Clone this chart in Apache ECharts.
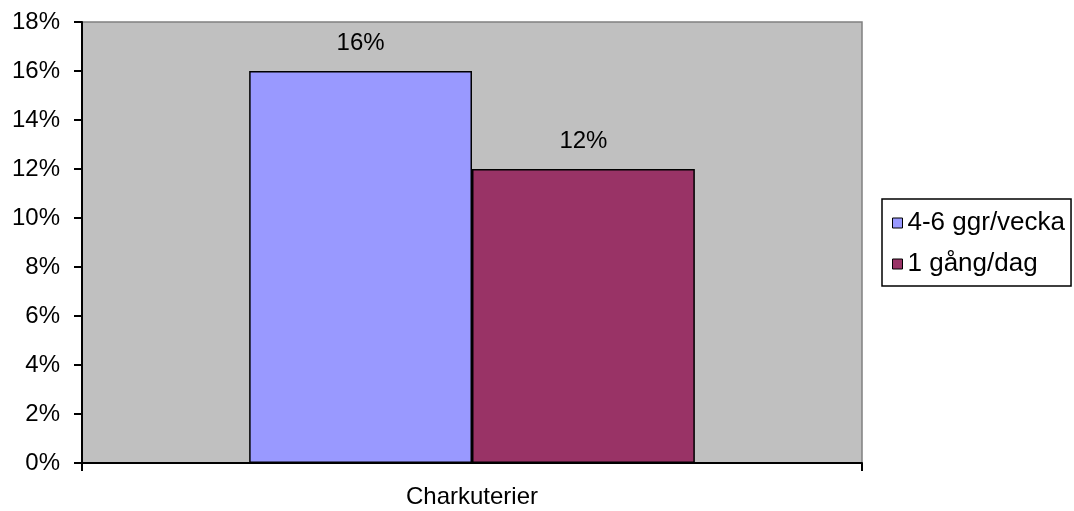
<!DOCTYPE html>
<html>
<head>
<meta charset="utf-8">
<script src="https://cdn.jsdelivr.net/npm/echarts@6/dist/echarts.min.js"></script>
<style>
  html, body { margin: 0; padding: 0; background: #ffffff; }
  #chart { width: 1074px; height: 511px; }
</style>
</head>
<body>
<div id="chart"></div>
<script>
// Category and series values (percent)
const categories = ['Charkuterier'];
const seriesNames = ['4-6 ggr/vecka', '1 gång/dag'];
const weeklyValues = [16];
const dailyValues = [12];
const seriesColors = ['#9999FF', '#993366'];

const FONT = '"Liberation Sans", Arial, sans-serif';

const chart = echarts.init(document.getElementById('chart'), null, { renderer: 'canvas' });

const valueSets = [weeklyValues, dailyValues];

chart.setOption({
  backgroundColor: '#ffffff',
  animation: false,
  textStyle: { fontFamily: FONT, color: '#000000' },
  grid: {
    left: 82, right: 212, top: 22, bottom: 48,
    show: true,
    backgroundColor: '#C0C0C0',
    borderColor: '#808080',
    borderWidth: 1.5
  },
  legend: {
    orient: 'vertical',
    left: 882,
    top: 199,
    padding: [11, 6, 9, 10],
    borderColor: '#000000',
    borderWidth: 1.5,
    itemWidth: 10,
    itemHeight: 10,
    itemGap: 15,
    icon: 'rect',
    textStyle: { fontFamily: FONT, fontSize: 26, color: '#000000' },
    data: seriesNames.map(n => ({ name: n, itemStyle: { borderColor: '#000000', borderWidth: 1 } }))
  },
  xAxis: {
    type: 'category',
    data: categories,
    boundaryGap: true,
    axisLine: { lineStyle: { color: '#000000', width: 2 } },
    axisTick: { show: true, length: 8, lineStyle: { color: '#000000', width: 2 } },
    axisLabel: { fontFamily: FONT, fontSize: 24, color: '#000000', margin: 22 }
  },
  yAxis: {
    type: 'value',
    min: 0,
    max: 18,
    interval: 2,
    axisLine: { show: true, lineStyle: { color: '#000000', width: 2 } },
    axisTick: { show: true, length: 8, lineStyle: { color: '#000000', width: 2 } },
    splitLine: { show: false },
    axisLabel: { fontFamily: FONT, fontSize: 24, color: '#000000', margin: 22, formatter: '{value}%' }
  },
  series: seriesNames.map((name, i) => ({
    name: name,
    type: 'bar',
    data: valueSets[i],
    barGap: '0%',
    barCategoryGap: '42.86%',
    itemStyle: { color: seriesColors[i], borderColor: '#000000', borderWidth: 1.5 },
    label: {
      show: true,
      position: 'top',
      distance: 16,
      fontFamily: FONT,
      fontSize: 24,
      color: '#000000',
      formatter: '{c}%'
    }
  }))
});
</script>
</body>
</html>
